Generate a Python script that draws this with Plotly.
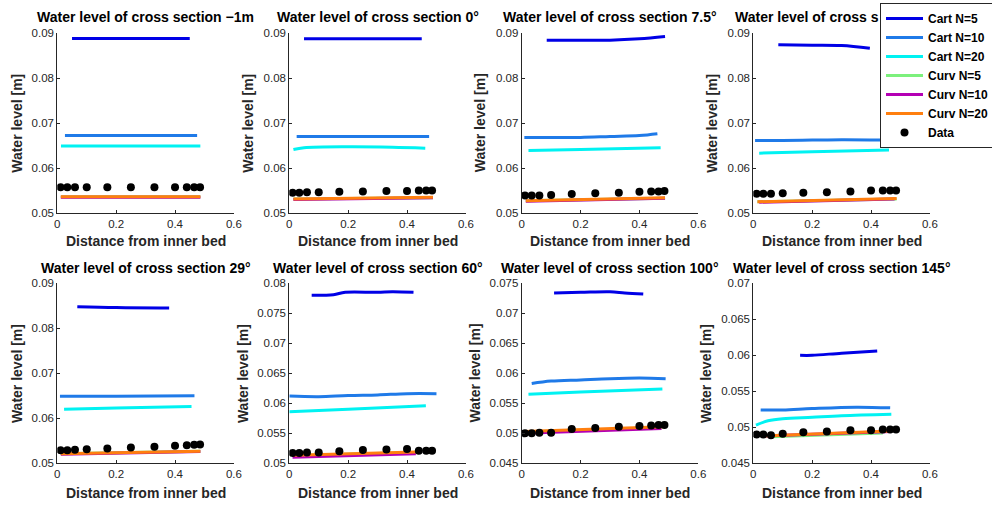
import plotly.graph_objects as go

# ---------------- data ----------------
section_titles = [
    "Water level of cross section −1m",
    "Water level of cross section 0°",
    "Water level of cross section 7.5°",
    "Water level of cross s",
    "Water level of cross section 29°",
    "Water level of cross section 60°",
    "Water level of cross section 100°",
    "Water level of cross section 145°",
]
series_names = ["Cart N=5", "Cart N=10", "Cart N=20", "Curv N=5", "Curv N=10", "Curv N=20"]

cart5_x = [[0.05, 0.45], [0.05, 0.45], [0.085, 0.2, 0.3, 0.4, 0.487], [0.085, 0.2, 0.3, 0.396],
           [0.068, 0.2, 0.38], [0.076, 0.15, 0.19, 0.3, 0.35, 0.422], [0.11, 0.2, 0.3, 0.35, 0.413],
           [0.159, 0.2, 0.3, 0.421]]
cart5_y = [[0.0888, 0.0888], [0.0887, 0.0887], [0.0884, 0.0884, 0.0884, 0.0887, 0.0892],
           [0.0874, 0.0873, 0.0872, 0.0866], [0.0848, 0.0846, 0.0845],
           [0.0780, 0.0781, 0.0785, 0.0785, 0.0786, 0.0785], [0.0734, 0.0735, 0.0736, 0.0734, 0.0732],
           [0.0600, 0.0600, 0.0603, 0.0606]]

cart10_x = [[0.026, 0.475], [0.025, 0.475], [0.009, 0.1, 0.2, 0.3, 0.4, 0.461], [0.006, 0.1, 0.2, 0.3, 0.47],
            [0.009, 0.2, 0.466], [0.0, 0.1, 0.2, 0.3, 0.4, 0.5], [0.034, 0.1, 0.2, 0.3, 0.4, 0.489],
            [0.025, 0.1, 0.2, 0.35, 0.465]]
cart10_y = [[0.0672, 0.0672], [0.0670, 0.0670], [0.0668, 0.0668, 0.0668, 0.0670, 0.0672, 0.0676],
            [0.0661, 0.0661, 0.0662, 0.0663, 0.0662], [0.0649, 0.0649, 0.0650],
            [0.0612, 0.0611, 0.0613, 0.0614, 0.0616, 0.0616], [0.0583, 0.0587, 0.0589, 0.0591, 0.0592, 0.0591],
            [0.0524, 0.0524, 0.0526, 0.0528, 0.0527]]

cart20_x = [[0.0125, 0.486], [0.014, 0.05, 0.2, 0.35, 0.462], [0.023, 0.2, 0.472], [0.02, 0.2, 0.461],
            [0.023, 0.2, 0.456], [0.0, 0.2, 0.464], [0.023, 0.2, 0.478], [0.009, 0.05, 0.1, 0.2, 0.3, 0.469]]
cart20_y = [[0.0649, 0.0649], [0.0641, 0.0645, 0.0647, 0.0646, 0.0644], [0.0639, 0.0641, 0.0645],
            [0.0633, 0.0636, 0.0640], [0.0620, 0.0623, 0.0626], [0.0586, 0.0590, 0.0596],
            [0.0565, 0.0569, 0.0574], [0.0503, 0.0509, 0.0512, 0.0514, 0.0516, 0.0518]]

curv5_x = [[0.012, 0.486], [0.014, 0.488], [0.014, 0.487], [0.014, 0.487], [0.012, 0.486], [0.017, 0.43],
           [0.01, 0.475], [0.06, 0.44]]
curv5_y = [[0.0536, 0.0536], [0.0531, 0.0534], [0.0527, 0.0533], [0.0525, 0.0531], [0.0521, 0.0527],
           [0.0513, 0.0518], [0.0502, 0.0509], [0.0487, 0.0492]]

curv10_x = [[0.012, 0.486], [0.014, 0.488], [0.014, 0.487], [0.02, 0.48], [0.012, 0.486], [0.011, 0.43],
            [0.01, 0.475], [0.03, 0.47]]
curv10_y = [[0.0535, 0.0535], [0.0530, 0.0534], [0.0526, 0.0533], [0.0524, 0.0531], [0.0520, 0.0526],
            [0.0510, 0.0516], [0.0500, 0.0508], [0.0488, 0.0494]]

curv20_x = [[0.012, 0.486], [0.014, 0.488], [0.014, 0.487], [0.014, 0.487], [0.012, 0.486], [0.017, 0.43],
            [0.01, 0.48], [0.03, 0.47]]
curv20_y = [[0.0536, 0.0536], [0.0531, 0.0535], [0.0527, 0.0534], [0.0525, 0.0532], [0.0521, 0.0527],
            [0.05135, 0.0519], [0.0503, 0.0511], [0.0488, 0.0495]]

data_x = [0.011, 0.034, 0.06, 0.1, 0.17, 0.25, 0.33, 0.4, 0.44, 0.465, 0.485]
data_y = [
    [0.0557, 0.0557, 0.0557, 0.0557, 0.0557, 0.0557, 0.0557, 0.0557, 0.0557, 0.0557, 0.0557],
    [0.0545, 0.0545, 0.0546, 0.0546, 0.0547, 0.0548, 0.0549, 0.0549, 0.0550, 0.0550, 0.0550],
    [0.0539, 0.0539, 0.0539, 0.0540, 0.0542, 0.0544, 0.0545, 0.0547, 0.0548, 0.0548, 0.0549],
    [0.0543, 0.0543, 0.0543, 0.0544, 0.0545, 0.0546, 0.0548, 0.0550, 0.0550, 0.0550, 0.0550],
    [0.0529, 0.0529, 0.0530, 0.0531, 0.0533, 0.0535, 0.0537, 0.0539, 0.0540, 0.0541, 0.0542],
    [0.0517, 0.0517, 0.0518, 0.0518, 0.0520, 0.0522, 0.0523, 0.0524, 0.0521, 0.0521, 0.0521],
    [0.0500, 0.0500, 0.0501, 0.0501, 0.0507, 0.0509, 0.0511, 0.0512, 0.0513, 0.0514, 0.0514],
    [0.0490, 0.0490, 0.0489, 0.0491, 0.0493, 0.0494, 0.0496, 0.0496, 0.0497, 0.0497, 0.0497],
]

x_tickvals = [0, 0.2, 0.4, 0.6]
x_ticktext = ["0", "0.2", "0.4", "0.6"]
y_ranges = [[0.05, 0.09]] * 5 + [[0.05, 0.08], [0.045, 0.075], [0.045, 0.07]]
y_tick_top = [0.05, 0.06, 0.07, 0.08, 0.09]
y_tick_top_txt = ["0.05", "0.06", "0.07", "0.08", "0.09"]
y_tick_60 = [0.05, 0.055, 0.06, 0.065, 0.07, 0.075, 0.08]
y_tick_60_txt = ["0.05", "0.055", "0.06", "0.065", "0.07", "0.075", "0.08"]
y_tick_100 = [0.045, 0.05, 0.055, 0.06, 0.065, 0.07, 0.075]
y_tick_100_txt = ["0.045", "0.05", "0.055", "0.06", "0.065", "0.07", "0.075"]
y_tick_145 = [0.045, 0.05, 0.055, 0.06, 0.065, 0.07]
y_tick_145_txt = ["0.045", "0.05", "0.055", "0.06", "0.065", "0.07"]
y_ticks = [(y_tick_top, y_tick_top_txt)] * 5 + [(y_tick_60, y_tick_60_txt), (y_tick_100, y_tick_100_txt),
                                                (y_tick_145, y_tick_145_txt)]

# ---------------- style ----------------
W, H = 992, 505
FONT = "Liberation Sans, Arial, Helvetica, sans-serif"
AX = "#262626"
colors = ["#0000e6", "#1f7ae8", "#00f2f2", "#7cf07c", "#b400b4", "#ff7f0f"]
series_x = [cart5_x, cart10_x, cart20_x, curv5_x, curv10_x, curv20_x]
series_y = [cart5_y, cart10_y, cart20_y, curv5_y, curv10_y, curv20_y]

col_left = [57.3, 289.3, 521.7, 753.3]
plot_w = 176.6
row_top = [33.0, 283.3]
plot_h = 180.0
ytitle_off = [40.5, 41.5, 41.5, 41.5, 40.5, 46.5, 46.5, 47.5]

fig = go.Figure()
layout_axes = {}
annotations = []

for i in range(8):
    r, c = divmod(i, 4)
    xa = "x" if i == 0 else f"x{i+1}"
    ya = "y" if i == 0 else f"y{i+1}"
    for k in range(6):
        fig.add_trace(go.Scatter(
            x=series_x[k][i], y=series_y[k][i], mode="lines", name=series_names[k],
            line=dict(color=colors[k], width=3, shape="spline"),
            legendgroup=series_names[k], showlegend=(i == 0), xaxis=xa, yaxis=ya,
        ))
    fig.add_trace(go.Scatter(
        x=data_x, y=data_y[i], mode="markers", name="Data",
        marker=dict(color="black", size=8), legendgroup="Data",
        showlegend=(i == 0), xaxis=xa, yaxis=ya,
    ))

    x0 = col_left[c] / W
    x1 = (col_left[c] + plot_w) / W
    y1 = 1 - row_top[r] / H
    y0 = 1 - (row_top[r] + plot_h) / H
    key = "" if i == 0 else str(i + 1)
    layout_axes["xaxis" + key] = dict(
        domain=[x0, x1], anchor=ya, range=[0, 0.6], tickvals=x_tickvals, ticktext=x_ticktext,
        showline=True, linecolor=AX, linewidth=1, ticks="inside", ticklen=3, tickcolor=AX,
        showgrid=False, zeroline=False, tickfont=dict(family=FONT, size=11.5, color=AX),
        fixedrange=True,
    )
    layout_axes["yaxis" + key] = dict(
        domain=[y0, y1], anchor=xa, range=y_ranges[i], tickvals=y_ticks[i][0], ticktext=y_ticks[i][1],
        showline=True, linecolor=AX, linewidth=1, ticks="inside", ticklen=3, tickcolor=AX,
        showgrid=False, zeroline=False, tickfont=dict(family=FONT, size=11.5, color=AX),
        fixedrange=True,
    )
    cx = (col_left[c] + plot_w / 2) / W
    # subplot title
    if i == 3:
        annotations.append(dict(text="<b>" + section_titles[i] + "</b>", x=733 / W, xanchor="left",
                                y=1 - (17.3 + 250 * r) / H, yanchor="middle", xref="paper", yref="paper",
                                showarrow=False, font=dict(family=FONT, size=14, color="black")))
    else:
        annotations.append(dict(text="<b>" + section_titles[i] + "</b>", x=cx, xanchor="center",
                                y=1 - (row_top[r] - 15.7) / H, yanchor="middle", xref="paper", yref="paper",
                                showarrow=False, font=dict(family=FONT, size=14, color="black")))
    # x title
    annotations.append(dict(text="<b>Distance from inner bed</b>", x=cx, xanchor="center",
                            y=1 - (row_top[r] + plot_h + 28 + 2 * r) / H, yanchor="middle",
                            xref="paper", yref="paper", showarrow=False,
                            font=dict(family=FONT, size=14, color=AX)))
    # y title
    annotations.append(dict(text="<b>Water level [m]</b>", x=(col_left[c] - ytitle_off[i]) / W,
                            xanchor="center", y=1 - (row_top[r] + plot_h / 2) / H, yanchor="middle",
                            xref="paper", yref="paper", showarrow=False, textangle=-90,
                            font=dict(family=FONT, size=14, color=AX)))

fig.update_layout(
    width=W, height=H,
    margin=dict(l=0, r=0, t=0, b=0, pad=0, autoexpand=False),
    paper_bgcolor="white", plot_bgcolor="white",
    showlegend=True,
    legend=dict(x=880 / W, y=1 - 3 / H, xanchor="left", yanchor="top", bgcolor="white",
                bordercolor=AX, borderwidth=1, font=dict(family=FONT, size=12, color="black", weight="bold"),
                itemwidth=37, tracegroupgap=0, traceorder="normal",
                entrywidth=80, entrywidthmode="pixels"),
    annotations=annotations,
    **layout_axes,
)

fig.write_html("out.html", config={"displayModeBar": False})
